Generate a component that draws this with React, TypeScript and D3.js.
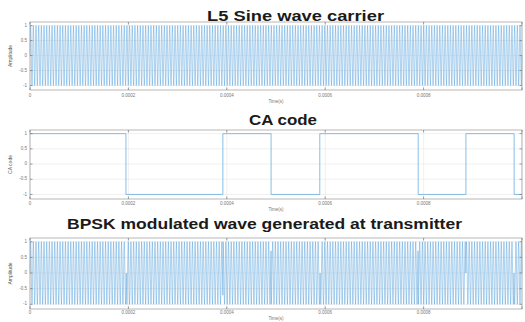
import * as d3 from "d3"

// time axis (seconds) and tick labels
const xTicks = [0, 0.0002, 0.0004, 0.0006, 0.0008, 0.001]
const xTickLabels = ["0", "0.0002", "0.0004", "0.0006", "0.0008", ""]
const yTicks = [-1, -0.5, 0, 0.5, 1]
const yTickLabels = ["-1", "-0.5", "0", "0.5", "1"]

// CA code chips: edges in time and the level of each chip
const caEdges = [0, 0.000195, 0.000392, 0.00049, 0.000589, 0.000789, 0.000886, 0.000984, 0.001]
const caValues = [1, -1, 1, -1, 1, -1, 1, -1]

// one sampled period of the carrier, repeated over the window
const carrierCycle = [0, 0.71, 1, 0.71, 0, -0.71, -1, -0.71]
const carrierCycles = 184

const titles = ["L5  Sine wave carrier", "CA code", "BPSK modulated wave generated at transmitter"]
const yLabels = ["Amplitude", "CA code", "Amplitude"]

interface Panel {
  top: number
  bottom: number
  titleX: number
  titleY: number
  titleLen: number
  tickY: number
  labelY: number
}

const panels: Panel[] = [
  { top: 22, bottom: 90, titleX: 207, titleY: 20.5, titleLen: 177, tickY: 97, labelY: 103 },
  { top: 130, bottom: 199, titleX: 249, titleY: 124.5, titleLen: 68, tickY: 205, labelY: 211 },
  { top: 238, bottom: 309, titleX: 67, titleY: 229, titleLen: 395, tickY: 314, labelY: 320 },
]

const left = 30
const right = 522
const lineColor = "#4a9bd8"

const xScale = d3.scaleLinear().domain([0, 0.001]).range([left, right])

function caAt(t: number) {
  const i = d3.bisectRight(caEdges, t) - 1
  return caValues[Math.max(0, Math.min(caValues.length - 1, i))]
}

const n = carrierCycles * carrierCycle.length
const carrier: [number, number][] = d3.range(n + 1).map((k) => [
  (k / n) * 0.001,
  carrierCycle[k % carrierCycle.length],
])
const bpsk: [number, number][] = carrier.map(([t, v]) => [t, v * caAt(t)])

const caSteps: [number, number][] = []
caValues.forEach((v, i) => {
  caSteps.push([caEdges[i], v])
  caSteps.push([caEdges[i + 1], v])
})

const series = [carrier, caSteps, bpsk]

export default function App() {
  return (
    <svg
      width={525}
      height={322}
      style={{ position: "absolute", left: 0, top: 0, background: "white" }}
      fontFamily="'Liberation Sans', Arial, sans-serif"
    >
      {panels.map((p, pi) => {
        const yScale = d3.scaleLinear().domain([-1.15, 1.12]).range([p.bottom, p.top])
        const line = d3
          .line<[number, number]>()
          .x((d) => xScale(d[0]))
          .y((d) => yScale(d[1]))
        const midY = (p.top + p.bottom) / 2
        return (
          <g key={pi}>
            {/* grid */}
            {xTicks.map((t, i) => (
              <line key={"gx" + i} x1={xScale(t)} x2={xScale(t)} y1={p.top} y2={p.bottom} stroke="#e6e6e6" strokeWidth={0.6} />
            ))}
            {yTicks.map((t, i) => (
              <line key={"gy" + i} x1={left} x2={right} y1={yScale(t)} y2={yScale(t)} stroke="#e6e6e6" strokeWidth={0.6} />
            ))}
            <path
              d={line(series[pi]) ?? ""}
              fill="none"
              stroke={pi === 1 ? "#6aaee0" : lineColor}
              strokeWidth={pi === 1 ? 0.8 : 0.45}
            />
            {/* box */}
            <rect x={left} y={p.top} width={right - left} height={p.bottom - p.top} fill="none" stroke="#a5a5a5" strokeWidth={0.8} />
            {xTicks.map((t, i) => (
              <g key={"tx" + i}>
                <line x1={xScale(t)} x2={xScale(t)} y1={p.bottom} y2={p.bottom - 2.5} stroke="#777" strokeWidth={0.7} />
                <line x1={xScale(t)} x2={xScale(t)} y1={p.top} y2={p.top + 2.5} stroke="#777" strokeWidth={0.7} />
                <text x={xScale(t)} y={p.tickY} fontSize={4.5} fill="#777" textAnchor="middle">
                  {xTickLabels[i]}
                </text>
              </g>
            ))}
            {yTicks.map((t, i) => (
              <g key={"ty" + i}>
                <line x1={left} x2={left + 2.5} y1={yScale(t)} y2={yScale(t)} stroke="#777" strokeWidth={0.7} />
                <line x1={right} x2={right - 2.5} y1={yScale(t)} y2={yScale(t)} stroke="#777" strokeWidth={0.7} />
                <text x={left - 3} y={yScale(t)} fontSize={4.5} fill="#777" textAnchor="end" dominantBaseline="middle">
                  {yTickLabels[i]}
                </text>
              </g>
            ))}
            <text
              transform={`translate(12, ${midY}) rotate(-90)`}
              fontSize={5}
              fill="#555"
              textAnchor="middle"
            >
              {yLabels[pi]}
            </text>
            <text x={(left + right) / 2} y={p.labelY} fontSize={4.5} fill="#777" textAnchor="middle">
              Time(s)
            </text>
            <text
              x={p.titleX}
              y={p.titleY}
              fontSize={14.5}
              fontWeight="bold"
              fill="#1a1a1a"
              textLength={p.titleLen}
              lengthAdjust="spacingAndGlyphs"
            >
              {titles[pi]}
            </text>
          </g>
        )
      })}
    </svg>
  )
}
